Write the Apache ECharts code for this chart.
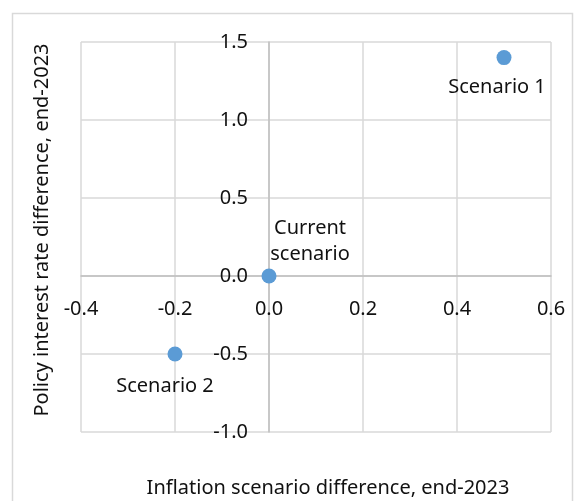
<!DOCTYPE html>
<html>
<head>
<meta charset="utf-8">
<script src="https://cdn.jsdelivr.net/npm/echarts@6/dist/echarts.min.js"></script>
<style>
html,body{margin:0;padding:0;background:#fff;}
#chart{width:574px;height:501px;}
</style>
</head>
<body>
<div id="chart"></div>
<script>
var names = ['Scenario 1', 'Current\nscenario', 'Scenario 2'];
var inflation = [0.5, 0.0, -0.2];
var policyRate = [1.4, 0.0, -0.5];

var font = '"Noto Sans", sans-serif';
var myChart = echarts.init(document.getElementById('chart'));

var points = [];
for (var i = 0; i < names.length; i++) {
    var lbl = {position: 'bottom', offset: [-7, 0], distance: 9};
    if (i === 1) lbl = {position: 'top', offset: [41, 0], distance: 1};
    if (i === 2) lbl = {position: 'bottom', offset: [-10, 0], distance: 12};
    points.push({name: names[i], value: [inflation[i], policyRate[i]], label: lbl});
}

var option = {
    animation: false,
    graphic: [{
        type: 'rect',
        shape: {x: 12.5, y: 13.5, width: 560, height: 500},
        style: {fill: 'none', stroke: '#d9d9d9', lineWidth: 1.5}
    }],
    grid: {left: 81, right: 23, top: 42, bottom: 69, containLabel: false, outerBoundsMode: 'none'},
    xAxis: {
        type: 'value',
        min: -0.4, max: 0.6, interval: 0.2,
        offset: -156,
        name: 'Inflation scenario difference, end-2023',
        nameLocation: 'middle',
        nameGap: 202,
        nameTextStyle: {color: '#111', fontSize: 20, fontFamily: font, padding: [0, 0, 0, 24]},
        axisLine: {onZero: false, lineStyle: {color: '#bfbfbf', width: 1.5}},
        axisTick: {show: false},
        axisLabel: {color: '#111', fontSize: 20, fontFamily: font, margin: 23,
            formatter: function (v) { return v.toFixed(1); }},
        splitLine: {lineStyle: {color: '#d9d9d9', width: 1.5}}
    },
    yAxis: {
        type: 'value',
        min: -1.0, max: 1.5, interval: 0.5,
        offset: -188,
        name: 'Policy interest rate difference, end-2023',
        nameLocation: 'middle',
        nameGap: 217,
        nameTextStyle: {color: '#111', fontSize: 20, fontFamily: font, padding: [0, 0, 0, 14]},
        axisLine: {onZero: false, lineStyle: {color: '#bfbfbf', width: 1.5}},
        axisTick: {show: false},
        axisLabel: {color: '#111', fontSize: 20, fontFamily: font, margin: 21,
            formatter: function (v) { return v.toFixed(1); }},
        splitLine: {lineStyle: {color: '#d9d9d9', width: 1.5}}
    },
    series: [{
        type: 'scatter',
        symbolSize: 15,
        itemStyle: {color: '#5b9bd5', opacity: 1},
        label: {
            show: true,
            formatter: '{b}',
            color: '#111',
            fontSize: 20,
            fontFamily: font,
            lineHeight: 26
        },
        data: points
    }]
};

myChart.setOption(option);
</script>
</body>
</html>
